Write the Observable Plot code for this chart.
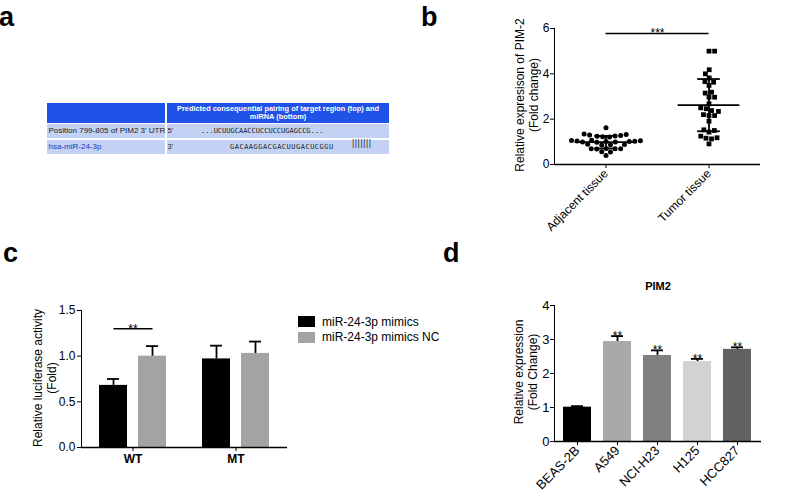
<!DOCTYPE html>
<html><head><meta charset="utf-8">
<script src="https://cdn.jsdelivr.net/npm/d3@7"></script>
<script src="https://cdn.jsdelivr.net/npm/@observablehq/plot@0.6"></script>
<style>
html,body{margin:0;padding:0;background:#fff;}
#fig{position:relative;width:800px;height:493px;overflow:hidden;font-family:"Liberation Sans",Arial,Helvetica,sans-serif;color:#000;}
.letter{position:absolute;font-size:27px;font-weight:bold;line-height:27px;}
.ylab{position:absolute;transform:translate(-50%,-50%) rotate(-90deg);white-space:nowrap;text-align:center;font-size:12px;line-height:14px;}
svg{overflow:visible;}
[aria-label="fx-axis tick label"] text{font-weight:bold;}
</style></head>
<body><div id="fig"></div>
<script>
// ---------- DATA ----------
// panel a (TargetScan table)
const tableHeader = ["Predicted consequential pairing of target region (top) and", "miRNA (bottom)"];
const tableRowLabels = ["Position 799-805 of PIM2 3' UTR", "hsa-miR-24-3p"];
const tableEnds = ["5'", "3'"];
const tableSeqs = ["...UCUUGCAACCUCCUCCUGAGCCG...", "GACAAGGACGACUUGACUCGGU"];
const pairing = "|||||||";

// panel b (scatter, relative expression of PIM-2)
const bGroups = ["Adjacent tissue", "Tumor tissue"];
const adjacentValues = [1.62, 1.32, 1.28, 1.25, 1.22, 1.21, 1.26, 1.30, 1.35,
  1.06, 1.03, 1.01, 0.99, 0.98, 0.99, 1.02, 1.04, 1.05, 1.07,
  0.88, 0.87, 0.86, 0.89, 0.69, 0.70, 0.68, 0.70, 0.71, 0.55, 0.56, 0.40];
const tumorValues = [5.0, 5.0, 4.18, 4.0, 3.82, 3.63, 3.66, 3.49, 3.19, 3.15, 2.97, 2.97,
  2.68, 2.46, 2.5, 2.34, 2.38, 2.16, 2.16, 2.2, 1.91, 1.5, 1.53, 1.43, 1.25, 1.13, 1.16, 1.18, 0.91];
const bYTicks = [0, 2, 4, 6];
const bSigLabel = "***";
const bSigY = 5.78;

// panel c (luciferase)
const cGroups = ["WT", "MT"];
const cSeries = ["miR-24-3p mimics", "miR-24-3p mimics NC"];
const cMeans = [[0.68, 1.00], [0.97, 1.03]];
const cErrors = [[0.07, 0.11], [0.145, 0.13]];
const cYTicks = [0, 0.5, 1.0, 1.5];
const cSigLabel = "**";
const cSigY = 1.30;

// panel d (PIM2 in cell lines)
const dTitle = "PIM2";
const dCells = ["BEAS-2B", "A549", "NCI-H23", "H125", "HCC827"];
const dValues = [1.01, 2.94, 2.53, 2.35, 2.71];
const dErrors = [0.03, 0.16, 0.15, 0.08, 0.06];
const dSig = ["", "**", "**", "**", "**"];
const dYTicks = [0, 1, 2, 3, 4];

// ---------- STYLE ----------
const FONT = '"Liberation Sans", Arial, Helvetica, sans-serif';
const cColors = ["#000000", "#a3a3a3"];
const dColors = ["#000000", "#a9a9a9", "#808080", "#d2d2d2", "#626262"];
const headBlue = "#1f52e6", rowBlue = "#c3d2f4";

const fig = document.getElementById("fig");
function el(tag, css, text) {
  const e = document.createElement(tag);
  e.style.cssText = css;
  if (text !== undefined) e.textContent = text;
  fig.appendChild(e);
  return e;
}
function letter(t, left, top) { const e = el("div", `left:${left}px;top:${top}px;`, t); e.className = "letter"; }
function ylab(lines, cx, cy) {
  const e = el("div", `left:${cx}px;top:${cy}px;`);
  e.className = "ylab";
  e.innerHTML = lines.map(s => s.replace(/&/g, "&amp;").replace(/</g, "&lt;")).join("<br>");
}
function placePlot(svg, left, top) {
  svg.style.position = "absolute";
  svg.style.left = left + "px";
  svg.style.top = top + "px";
  fig.appendChild(svg);
}

// ---------- PANEL LETTERS ----------
letter("a", -1, 4);
letter("b", 421, 4);
letter("c", 3, 240);
letter("d", 443, 240);

// ---------- PANEL A: table ----------
el("div", `position:absolute;left:47px;top:103px;width:118px;height:20px;background:${headBlue};`);
const hd = el("div", `position:absolute;left:167px;top:103px;width:222px;height:20px;background:${headBlue};color:#fff;font-weight:bold;font-size:7.4px;line-height:8.4px;text-align:center;padding-top:1.5px;box-sizing:border-box;white-space:nowrap;overflow:hidden;`);
hd.innerHTML = tableHeader.join("<br>");
const rowTops = [124, 139.5], rowH = [14, 14.5];
tableRowLabels.forEach((lab, i) => {
  el("div", `position:absolute;left:47px;top:${rowTops[i]}px;width:118px;height:${rowH[i]}px;background:${rowBlue};font-size:8px;line-height:${rowH[i]}px;padding-left:1.5px;box-sizing:border-box;white-space:nowrap;overflow:hidden;color:${i === 1 ? "#2437b8" : "#222"};`, lab);
  el("div", `position:absolute;left:166.5px;top:${rowTops[i]}px;width:222.5px;height:${rowH[i]}px;background:${rowBlue};`);
  el("div", `position:absolute;left:167.5px;top:${rowTops[i]}px;font-size:7.5px;line-height:${rowH[i]}px;color:#222;`, tableEnds[i]);
});
el("div", `position:absolute;left:201px;top:124px;font-family:'DejaVu Sans Mono',monospace;font-size:7px;line-height:14px;color:#222;white-space:nowrap;`, tableSeqs[0]);
el("div", `position:absolute;left:230px;top:139.5px;font-family:'DejaVu Sans Mono',monospace;font-size:7px;letter-spacing:0.5px;line-height:14.5px;color:#222;white-space:nowrap;`, tableSeqs[1]);
el("div", `position:absolute;left:352px;top:137px;font-size:8.5px;line-height:12px;letter-spacing:0.6px;color:#222;white-space:nowrap;`, pairing);

// ---------- PANEL B ----------
function swarm(values, pxPerUnit, diam) {
  const order = d3.range(values.length).sort((a, b) => values[a] - values[b]);
  const placed = [], off = new Array(values.length);
  for (const i of order) {
    const yi = values[i] * pxPerUnit;
    const cands = [0];
    for (const p of placed) {
      const dy = Math.abs(p.y - yi);
      if (dy < diam) { const dx = Math.sqrt(diam * diam - dy * dy); cands.push(p.x + dx, p.x - dx); }
    }
    cands.sort((a, b) => Math.abs(a) - Math.abs(b));
    for (const c of cands) {
      if (placed.every(p => (p.x - c) ** 2 + (p.y - yi) ** 2 >= diam * diam - 1e-6)) {
        off[i] = c; placed.push({x: c, y: yi}); break;
      }
    }
  }
  return off;
}
{
  const W = 300, H = 240, ml = 74, mr = 20, mt = 28, mb = 76;
  const xDom = [0, bGroups.length], yDom = [0, d3.max(bYTicks)];
  const pxX = (W - ml - mr) / (xDom[1] - xDom[0]);
  const pxY = (H - mt - mb) / (yDom[1] - yDom[0]);
  const sets = [adjacentValues, tumorValues];
  const pts = [[], []], stats = [];
  sets.forEach((vals, gi) => {
    const pos = gi + 0.5;
    const off = swarm(vals, pxY, 5.6);
    vals.forEach((v, i) => pts[gi].push({x: pos + off[i] / pxX, y: v}));
    const m = d3.mean(vals), sd = d3.deviation(vals);
    stats.push({pos, mean: m, lo: m - sd, hi: m + sd});
  });
  const sig = [{x1: 0.5, x2: 1.5, y: bSigY, label: bSigLabel}];
  const svg = Plot.plot({
    width: W, height: H, marginLeft: ml, marginRight: mr, marginTop: mt, marginBottom: mb,
    style: {fontFamily: FONT, fontSize: "12px", background: "transparent", color: "#000"},
    x: {domain: xDom, ticks: bGroups.map((g, i) => i + 0.5), tickFormat: d => bGroups[Math.floor(d)], tickRotate: -45, tickSize: 4, tickPadding: 3, label: null},
    y: {domain: yDom, ticks: bYTicks, tickFormat: "d", tickSize: 4, tickPadding: 1, line: true, label: null},
    marks: [
      Plot.ruleY([0], {strokeWidth: 1.5}),
      Plot.dot(pts[0], {x: "x", y: "y", r: 2.5, fill: "#000", stroke: "none", symbol: "circle"}),
      Plot.dot(pts[1], {x: "x", y: "y", r: 2.7, fill: "#000", stroke: "none", symbol: "square"}),
      Plot.ruleY(stats, {x1: d => d.pos - 0.3, x2: d => d.pos + 0.3, y: "mean", strokeWidth: 1.8}),
      Plot.ruleY(stats, {x1: d => d.pos - 0.11, x2: d => d.pos + 0.11, y: "lo", strokeWidth: 1.8}),
      Plot.ruleY(stats, {x1: d => d.pos - 0.11, x2: d => d.pos + 0.11, y: "hi", strokeWidth: 1.8}),
      Plot.ruleX(stats, {x: "pos", y1: "lo", y2: "hi", strokeWidth: 1.8}),
      Plot.ruleY(sig, {x1: "x1", x2: "x2", y: "y", strokeWidth: 1.5}),
      Plot.text(sig, {x: d => (d.x1 + d.x2) / 2, y: "y", text: "label", lineAnchor: "bottom", dy: 4, fontSize: 12})
    ]
  });
  placePlot(svg, 480, 0);
  ylab(["Relative expresison of PIM-2", "(Fold change)"], 527, 95);
}

// ---------- PANEL C ----------
{
  const data = [];
  cGroups.forEach((g, gi) => cSeries.forEach((s, si) => data.push({group: g, series: s, value: cMeans[gi][si], err: cErrors[gi][si]})));
  const sig = [{group: cGroups[0], from: cSeries[0], to: cSeries[1], y: cSigY, label: cSigLabel}];
  const svg = Plot.plot({
    width: 300, height: 253, marginLeft: 81, marginRight: 13, marginTop: 70, marginBottom: 46,
    style: {fontFamily: FONT, fontSize: "12px", background: "transparent", color: "#000"},
    fx: {domain: cGroups, padding: 0, label: null, tickSize: 4, tickPadding: 3},
    x: {domain: cSeries, paddingInner: 0.28, paddingOuter: 0.46, axis: null},
    y: {domain: [0, d3.max(cYTicks)], ticks: cYTicks, tickFormat: ".1f", tickSize: 4, tickPadding: 2, line: true, label: null},
    color: {domain: cSeries, range: cColors},
    marks: [
      Plot.barY(data, {fx: "group", x: "series", y: "value", fill: "series"}),
      Plot.ruleX(data, {fx: "group", x: "series", y1: "value", y2: d => d.value + d.err, stroke: "#000", strokeWidth: 1.8}),
      Plot.tickY(data, {fx: "group", x: "series", y: d => d.value + d.err, insetLeft: 8, insetRight: 8, strokeWidth: 1.8}),
      Plot.ruleY([0], {strokeWidth: 1.5}),
      Plot.link(sig, {fx: "group", x1: "from", x2: "to", y1: "y", y2: "y", strokeWidth: 1.5}),
      Plot.text(sig, {fx: "group", y: "y", text: "label", lineAnchor: "bottom", dy: 4, fontSize: 12})
    ]
  });
  placePlot(svg, 0, 240);
  ylab(["Relative luciferase activity", "(Fold)"], 45, 378);
  // legend
  cSeries.forEach((s, i) => {
    const top = 316 + i * 15.5;
    el("div", `position:absolute;left:298px;top:${top}px;width:17px;height:11px;background:${cColors[i]};`);
    el("div", `position:absolute;left:322px;top:${top - 1.5}px;font-size:12px;line-height:14px;white-space:nowrap;`, s);
  });
}

// ---------- PANEL D ----------
{
  const data = dCells.map((c, i) => ({cell: c, value: dValues[i], err: dErrors[i], sig: dSig[i]}));
  const svg = Plot.plot({
    width: 370, height: 253, marginLeft: 124, marginRight: 39, marginTop: 65, marginBottom: 52,
    style: {fontFamily: FONT, fontSize: "13px", background: "transparent", color: "#000"},
    x: {domain: dCells, paddingInner: 0.29, paddingOuter: 0.19, tickRotate: -45, tickSize: 4, tickPadding: 3, label: null},
    y: {domain: [0, d3.max(dYTicks)], ticks: dYTicks, tickFormat: "d", tickSize: 4, tickPadding: 1, line: true, label: null},
    color: {domain: dCells, range: dColors},
    marks: [
      Plot.barY(data, {x: "cell", y: "value", fill: "cell"}),
      Plot.ruleX(data, {x: "cell", y1: "value", y2: d => d.value + d.err, stroke: "#000", strokeWidth: 1.8}),
      Plot.tickY(data, {x: "cell", y: d => d.value + d.err, insetLeft: 8, insetRight: 8, strokeWidth: 1.8}),
      Plot.ruleY([0], {strokeWidth: 1.5}),
      Plot.text(data.filter(d => d.sig), {x: "cell", y: d => d.value + d.err, text: "sig", lineAnchor: "bottom", dy: 4, fontSize: 12})
    ]
  });
  placePlot(svg, 430, 240);
  el("div", `position:absolute;left:658px;top:286px;transform:translate(-50%,-50%);font-size:11px;font-weight:bold;line-height:12px;white-space:nowrap;`, dTitle);
  ylab(["Relative expression", "(Fold Change)"], 526, 372);
}
</script>
</body></html>
